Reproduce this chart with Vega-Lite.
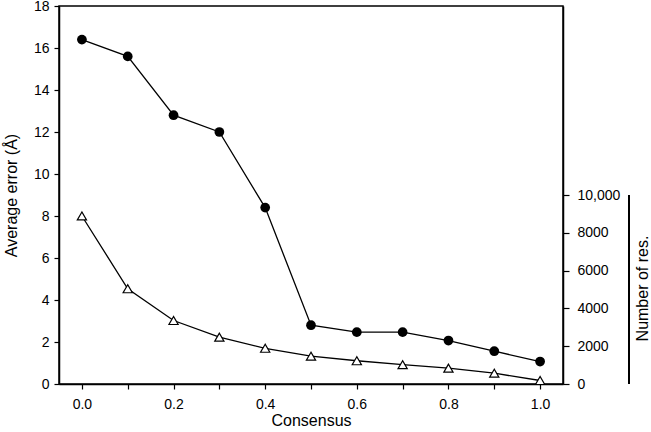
{
  "$schema": "https://vega.github.io/schema/vega-lite/v6.json",
  "autosize": {"type": "none"},
  "padding": {"left": 59, "top": 6, "right": 88, "bottom": 48},
  "width": 504,
  "height": 378,
  "background": "white",
  "config": {
    "font": "Liberation Sans",
    "view": {"stroke": "black", "strokeWidth": 1.5},
    "axis": {
      "labelColor": "black", "titleColor": "black", "tickColor": "black", "domainColor": "black",
      "labelFont": "Liberation Sans", "titleFont": "Liberation Sans",
      "labelFontSize": 14, "titleFontSize": 16, "titleFontWeight": "normal",
      "grid": false, "tickSize": 5, "domainWidth": 1.5, "tickWidth": 1.2, "labelPadding": 5
    }
  },
  "data": {"values": [
    {"consensus": 0.0, "error": 16.4, "residues": 8890},
    {"consensus": 0.1, "error": 15.6, "residues": 5040},
    {"consensus": 0.2, "error": 12.8, "residues": 3360},
    {"consensus": 0.3, "error": 12.0, "residues": 2480},
    {"consensus": 0.4, "error": 8.4, "residues": 1890},
    {"consensus": 0.5, "error": 2.8, "residues": 1470},
    {"consensus": 0.6, "error": 2.47, "residues": 1230},
    {"consensus": 0.7, "error": 2.47, "residues": 1020},
    {"consensus": 0.8, "error": 2.07, "residues": 840},
    {"consensus": 0.9, "error": 1.56, "residues": 570},
    {"consensus": 1.0, "error": 1.07, "residues": 185}
  ]},
  "encoding": {
    "x": {
      "field": "consensus", "type": "quantitative",
      "scale": {"domain": [-0.05, 1.05], "nice": false, "zero": false},
      "axis": {
        "title": "Consensus", "values": [0, 0.1, 0.2, 0.3, 0.4, 0.5, 0.6, 0.7, 0.8, 0.9, 1.0],
        "format": ".1f",
        "labelExpr": "(round(datum.value * 10) % 2 == 0) ? datum.label : ''",
        "labelPadding": 8,
        "titlePadding": 1
      }
    }
  },
  "layer": [
    {
      "encoding": {
        "y": {
          "field": "error", "type": "quantitative",
          "scale": {"domain": [0, 18], "nice": false},
          "axis": {"title": "Average error (Å)", "values": [0, 2, 4, 6, 8, 10, 12, 14, 16, 18], "orient": "left", "titlePadding": 14}
        }
      },
      "layer": [
        {"mark": {"type": "line", "color": "black", "strokeWidth": 1.3}},
        {"mark": {"type": "point", "shape": "circle", "filled": true, "color": "black", "size": 95, "opacity": 1}}
      ]
    },
    {
      "layer": [
        {
          "mark": {"type": "line", "color": "black", "strokeWidth": 1.3},
          "encoding": {
            "y": {
              "field": "residues", "type": "quantitative",
              "scale": {"domain": [0, 20000], "nice": false},
              "axis": {
                "title": "Number of res.", "orient": "right",
                "values": [0, 1000, 2000, 3000, 4000, 5000, 6000, 7000, 8000, 9000, 10000],
                "format": "d",
                "labelExpr": "datum.value == 10000 ? '10,000' : (datum.value % 2000 == 0 ? datum.label : '')",
                "titleAngle": 270, "titleAlign": "center", "titleBaseline": "middle",
                "titleX": 79, "titleY": 282, "labelPadding": 8, "tickSize": 6
              }
            }
          }
        },
        {
          "mark": {"type": "point", "shape": "triangle-up", "filled": true, "fill": "white", "stroke": "black", "strokeWidth": 1.2, "size": 85, "opacity": 1},
          "encoding": {"y": {"field": "residues", "type": "quantitative"}}
        },
        {
          "mark": {"type": "rule", "color": "black", "strokeWidth": 1.2, "clip": false},
          "encoding": {
            "x": {"datum": 1.194, "type": "quantitative"},
            "y": {"datum": 0, "type": "quantitative"},
            "y2": {"datum": 10000}
          }
        }
      ]
    }
  ],
  "resolve": {"scale": {"y": "independent"}, "axis": {"y": "independent"}}
}
